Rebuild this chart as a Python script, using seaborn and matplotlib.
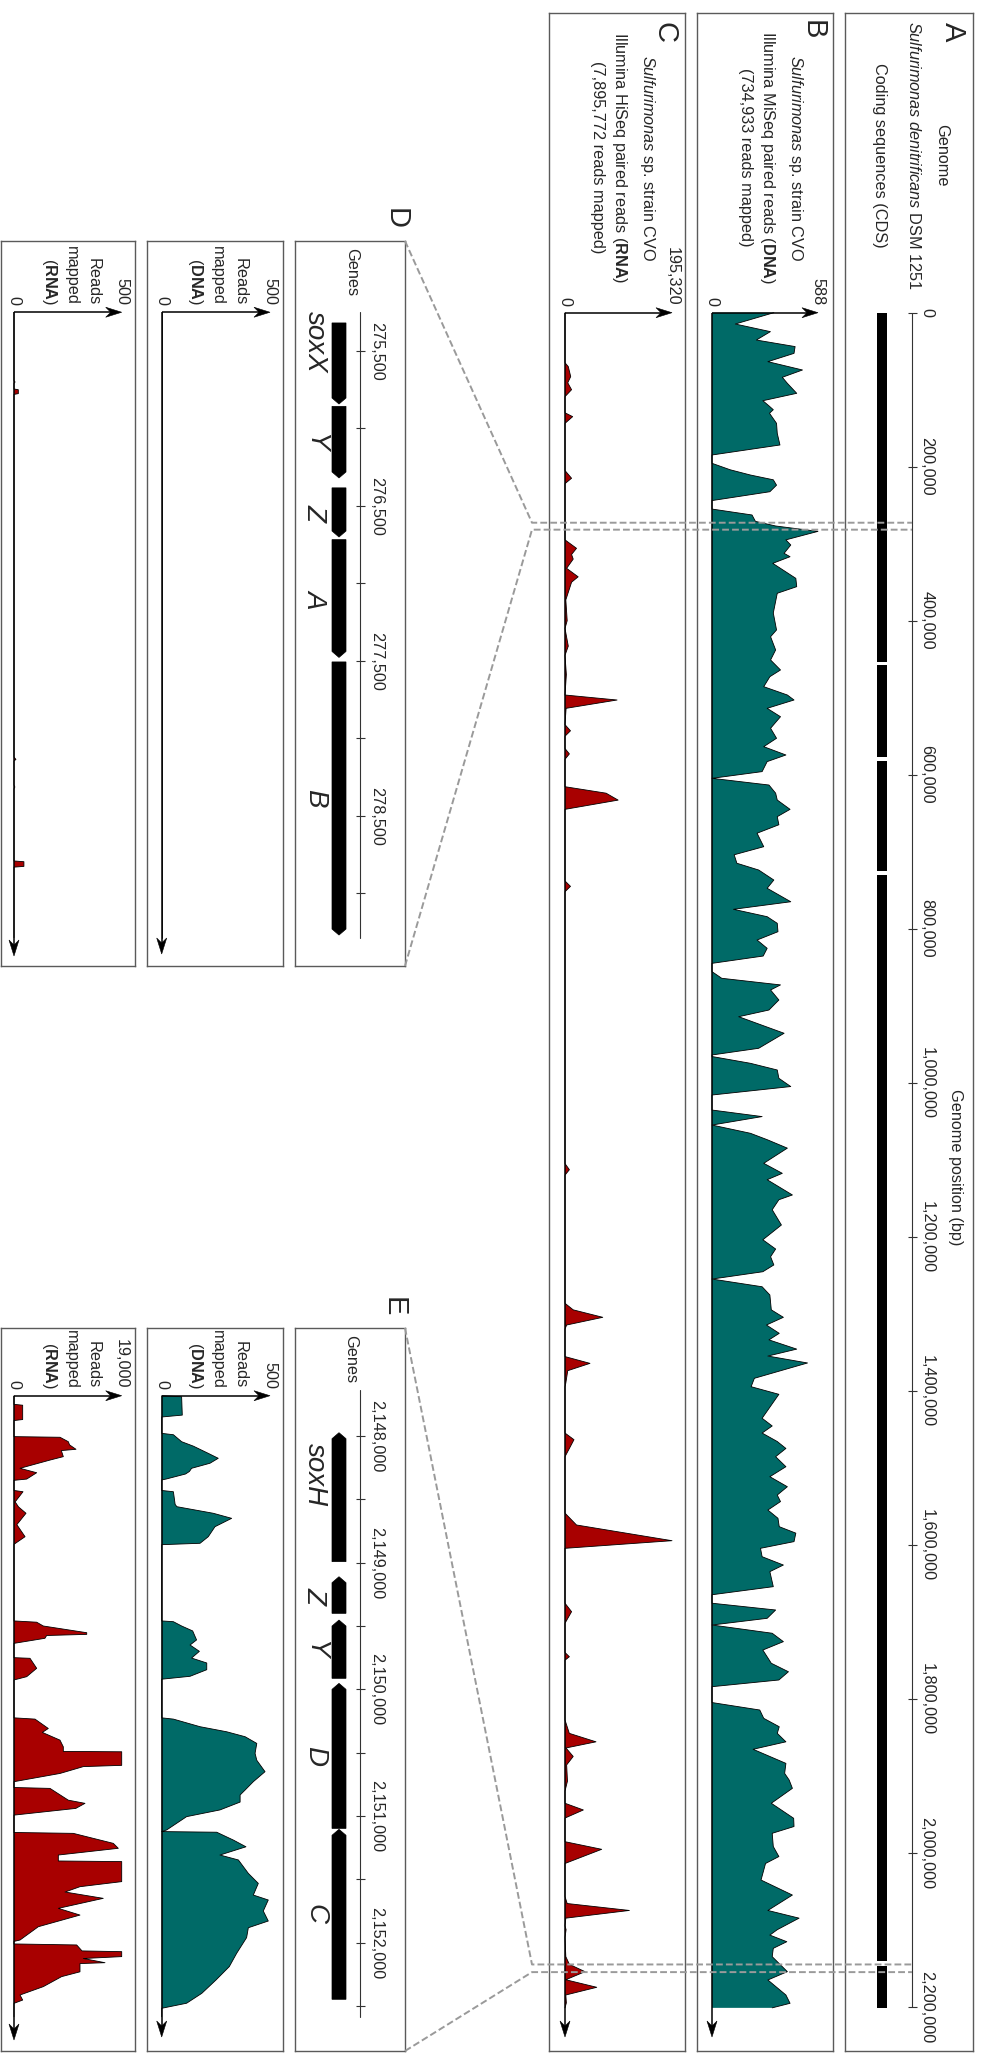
import numpy as np
import matplotlib
matplotlib.use("Agg")
import matplotlib.pyplot as plt
from matplotlib.patches import Polygon
import seaborn as sns

# ------------------------------------------------------------------
# Data
# ------------------------------------------------------------------
GENOME_TICKS = list(range(0, 2_200_001, 200_000))
# contiguous coding regions of the reference genome (kb gaps between them)
CDS_BLOCKS = [(0, 453_000), (457_000, 576_600), (582_000, 724_600),
              (730_000, 2_140_600), (2_146_800, 2_201_500)]

DNA_READS_MAPPED = 734_933
RNA_READS_MAPPED = 7_895_772

# genome-wide DNA coverage (MiSeq), position in kb
DNA_POS_KB = [0, 14.7, 24.6, 35.5, 44, 52.8, 63.6, 74.4, 83.9, 91.7,
              104.7, 114.3, 121, 126, 130.6, 143.7, 156.7, 171.8, 184.8, 195.6,
              204, 210.8, 217, 224, 232.5, 244, 255, 262.7, 271, 277,
              284, 295, 301.7, 312.5, 316.9, 325.5, 345, 355.8, 364.4, 390,
              412, 420.8, 438, 451, 464, 472.7, 485.7, 496.5, 503, 513.8,
              524.7, 539.7, 552.7, 563.6, 574.4, 583, 596, 604.7, 613.4, 624,
              632.9, 645, 654.5, 665, 676, 693.5, 704, 715, 723.8, 736.8,
              747.5, 765, 774.8, 784.4, 793, 803.9, 814.7, 825.5, 835.5, 845,
              855.8, 864.4, 873, 879.6, 892.6, 905.6, 914.3, 935.8, 955.3, 964,
              966, 974.8, 983.5, 994.3, 1005, 1016, 1035.5, 1044, 1055, 1065.7,
              1074, 1085, 1104.7, 1117.7, 1126, 1145.8, 1152, 1165, 1184.8, 1204,
              1216, 1226, 1236.7, 1245.5, 1255, 1265, 1275.7, 1295, 1304.7, 1314.7,
              1325.5, 1334, 1346, 1355, 1364, 1383.9, 1394.8, 1404.7, 1435.8, 1445.8,
              1455, 1466, 1475, 1485.7, 1498.7, 1511.7, 1524.7, 1535.5, 1544, 1555,
              1565.7, 1576.6, 1585, 1596, 1604.7, 1615.6, 1626.4, 1635, 1654.5, 1665,
              1676, 1684.8, 1695.6, 1704.3, 1715, 1725.9, 1736.8, 1754, 1765, 1775.7,
              1784.4, 1805, 1814.7, 1825.5, 1836.4, 1845, 1856, 1865.7, 1884, 1897,
              1905.6, 1916.4, 1935.8, 1955.3, 1966, 1974.8, 1992, 2005, 2014, 2035.5,
              2055, 2075, 2085, 2100, 2107, 2115.6, 2124.2, 2135, 2154.5, 2165.3,
              2184.8, 2195.6, 2201.5]
DNA_COV = [343, 129, 324, 246, 461, 455, 310, 502, 390, 418,
           470, 282, 316, 340, 319, 358, 362, 377, 0, 0,
           101, 213, 340, 358, 321, 0, 0, 222, 241, 353,
           588, 410, 437, 400, 433, 337, 465, 470, 362, 340,
           358, 325, 353, 325, 380, 321, 287, 418, 455, 306,
           380, 325, 358, 287, 410, 306, 278, 0, 316, 353,
           362, 433, 362, 371, 250, 287, 123, 138, 259, 343,
           306, 437, 119, 306, 362, 366, 250, 306, 284, 0,
           0, 54, 380, 325, 371, 316, 148, 400, 259, 0,
           0, 213, 362, 371, 437, 0, 0, 278, 0, 213,
           306, 418, 287, 390, 306, 446, 371, 334, 385, 282,
           353, 325, 343, 282, 0, 278, 321, 329, 396, 302,
           373, 316, 470, 310, 530, 235, 217, 371, 278, 334,
           278, 362, 410, 353, 410, 321, 418, 362, 380, 310,
           366, 373, 465, 455, 269, 278, 396, 321, 340, 0,
           0, 353, 306, 0, 334, 396, 282, 329, 424, 371,
           0, 0, 265, 287, 373, 362, 410, 228, 410, 403,
           428, 446, 329, 453, 455, 334, 340, 371, 297, 272,
           446, 310, 483, 362, 321, 415, 340, 334, 418, 310,
           410, 433, 334]

# genome-wide RNA coverage (HiSeq), position in kb
RNA_POS_KB = [0, 65, 70, 83, 91, 100, 109, 130, 135, 143.7,
              205, 215, 222, 295, 306, 314, 320, 332, 343, 350,
              373, 400, 410, 433, 445, 470, 496.5, 503, 513.8, 535,
              543, 550, 566, 573, 580, 615.6, 624, 633, 645, 738,
              745, 752, 1105, 1113, 1120, 1286.5, 1295, 1304.7, 1314.7, 1320,
              1355.7, 1364.5, 1374, 1390, 1395, 1455, 1463.6, 1475, 1485.7, 1559,
              1574.4, 1594.8, 1604.7, 1676, 1687, 1702, 1740, 1745.5, 1750, 1827.7,
              1845, 1856, 1864, 1875, 1886, 1907, 1920, 1935.8, 1944.5, 1955,
              1985.7, 1995.6, 2014, 2057, 2066, 2075, 2085, 2095, 2100, 2110,
              2135, 2145, 2154.5, 2165, 2174.8, 2184.8, 2195, 2201.5]
RNA_COV = [0, 0, 6000, 10400, 5000, 12000, 0, 0, 14000, 0,
           0, 12000, 0, 0, 21000, 12000, 15000, 3000, 24000, 12000,
           1500, 4000, 0, 6000, 0, 2500, 0, 95000, 2000, 0,
           10000, 0, 0, 8000, 0, 0, 75000, 97000, 0, 0,
           10000, 0, 0, 8000, 0, 0, 15000, 69000, 3000, 0,
           0, 45600, 5000, 1500, 0, 0, 16400, 8000, 0, 0,
           21000, 195320, 0, 0, 12000, 0, 0, 8000, 0, 0,
           7900, 56600, 1800, 15000, 3000, 4500, 0, 0, 33500, 0,
           0, 67000, 0, 0, 4000, 117500, 1500, 0, 2000, 0,
           1500, 8000, 36500, 1500, 58000, 1500, 2500, 0]

# soxXYZAB locus
D_AXIS = (275_250, 279_285)
D_TICKS = list(range(275_500, 279_001, 500))
D_GENE_NAMES = ["soxX", "Y", "Z", "A", "B"]
D_GENE_START = [275_319, 275_857, 276_383, 276_717, 277_506]
D_GENE_END = [275_842, 276_319, 276_700, 277_477, 279_268]
D_GENE_STRAND = [1, 1, 1, 1, 1]
D_DNA_POS = [275_250, 279_285]
D_DNA_COV = [0, 0]
D_RNA_POS = [275_250, 275_690, 275_700, 275_710, 275_745, 275_750, 275_775, 275_780,
             278_120, 278_135, 278_145, 278_300, 278_313, 278_325,
             278_790, 278_795, 278_825, 278_830, 279_285]
D_RNA_COV = [0, 0, 5, 0, 0, 20, 20, 0, 0, 9, 0, 0, 4, 0, 0, 46, 46, 0, 0]

# soxHZYDC locus
E_AXIS = (2_147_640, 2_152_585)
E_TICKS = list(range(2_148_000, 2_152_501, 500))
E_GENE_NAMES = ["soxH", "Z", "Y", "D", "C"]
E_GENE_START = [2_147_974, 2_149_111, 2_149_453, 2_149_953, 2_151_105]
E_GENE_END = [2_148_992, 2_149_400, 2_149_913, 2_151_098, 2_152_447]
E_GENE_STRAND = [-1, -1, -1, -1, -1]
E_DNA_POS = [2147682, 2147690, 2147835, 2147850, 2147979, 2147990, 2148045, 2148080, 2148137, 2148176,
             2148215, 2148255, 2148280, 2148300, 2148340, 2148347, 2148430, 2148440, 2148540, 2148558,
             2148610, 2148650, 2148716, 2148795, 2148847, 2148858, 2149460, 2149466, 2149500, 2149539,
             2149610, 2149650, 2149700, 2149753, 2149792, 2149845, 2149897, 2149920, 2150225, 2150235,
             2150295, 2150335, 2150374, 2150427, 2150505, 2150560, 2150650, 2150729, 2150795, 2150834,
             2150890, 2150952, 2151005, 2151110, 2151123, 2151128, 2151190, 2151243, 2151308, 2151347,
             2151453, 2151532, 2151624, 2151663, 2151750, 2151829, 2151882, 2151960, 2152084, 2152189,
             2152294, 2152400, 2152478, 2152518, 2152585]
E_DNA_COV = [0, 92, 95, 0, 0, 54, 92, 146, 215, 261,
             223, 138, 128, 110, 20, 0, 0, 54, 62, 70,
             238, 323, 246, 215, 177, 0, 0, 54, 92, 143,
             161, 131, 174, 138, 208, 208, 131, 0, 0, 54,
             177, 300, 385, 439, 431, 439, 477, 423, 385, 362,
             362, 269, 115, 23, 0, 254, 331, 389, 269, 354,
             400, 446, 423, 492, 469, 492, 400, 392, 346, 312,
             251, 185, 115, 0, 0]
E_RNA_POS = [2147682, 2147750, 2147757, 2147870, 2147878, 2148005, 2148010, 2148045, 2148070, 2148105,
             2148115, 2148163, 2148190, 2148255, 2148290, 2148340, 2148350, 2148430, 2148440, 2148520,
             2148560, 2148610, 2148700, 2148795, 2148855, 2149460, 2149470, 2149500, 2149553, 2149566,
             2149575, 2149597, 2149637, 2149750, 2149755, 2149834, 2149900, 2149926, 2150225, 2150235,
             2150309, 2150340, 2150401, 2150454, 2150490, 2150493, 2150600, 2150610, 2150664, 2150729,
             2150775, 2150782, 2150875, 2150900, 2150940, 2150993, 2151130, 2151137, 2151216, 2151255,
             2151308, 2151355, 2151360, 2151518, 2151558, 2151600, 2151650, 2151729, 2151782, 2151874,
             2151979, 2151990, 2152010, 2152018, 2152065, 2152071, 2152110, 2152125, 2152158, 2152165,
             2152230, 2152268, 2152347, 2152413, 2152453, 2152479, 2152585]
E_RNA_COV = [0, 0, 1530, 1530, 0, 0, 8115, 9580, 9800, 10937,
             8350, 8700, 6350, 1060, 4000, 2240, 0, 0, 1590, 200,
             800, 2117, 500, 1950, 0, 0, 4000, 5170, 12830, 12830,
             5760, 5460, 0, 0, 2823, 4000, 2240, 0, 0, 3705,
             6050, 5000, 8115, 8700, 8700, 19000, 19000, 12230, 8115, 0,
             0, 6350, 9580, 12525, 10900, 0, 0, 10465, 17520, 18400,
             7820, 7820, 19000, 19000, 11640, 9000, 15750, 7820, 11640, 4290,
             1060, 0, 0, 11060, 12000, 19000, 19000, 12230, 16050, 11640,
             11640, 8400, 5170, 1060, 1530, 0, 0]
LOCUS_DNA_MAX = 500
D_RNA_MAX = 500
E_RNA_MAX = 19_000

# ------------------------------------------------------------------
# Style
# ------------------------------------------------------------------
sns.set_theme(style="white")
plt.rcParams["font.family"] = ["Liberation Sans", "DejaVu Sans"]
plt.rcParams["mathtext.fontset"] = "custom"
plt.rcParams["mathtext.rm"] = "Liberation Sans"
plt.rcParams["mathtext.it"] = "Liberation Sans:italic"
plt.rcParams["mathtext.bf"] = "Liberation Sans:bold"

FS = 11.7
LETTER_FS = 21
GENE_FS = 20
TEAL = "#006a67"
RED = "#a80000"
BOX_EDGE = "#5a5a5a"
DASH_GREY = "#9a9a9a"
AXIS_LW = 1.1

W, H = 989, 2053
fig = plt.figure(figsize=(W / 100, H / 100), dpi=100)
fig.patch.set_facecolor("white")

# full-figure overlay in pixel units (top-left origin) for connectors & arrowheads
ov = fig.add_axes([0, 0, 1, 1])
ov.set_xlim(0, W)
ov.set_ylim(H, 0)
ov.axis("off")
ov.patch.set_alpha(0)
ov.set_zorder(10)


def box_axes(box):
    x0, y0, x1, y1 = box
    ax = fig.add_axes([x0 / W, 1 - y1 / H, (x1 - x0) / W, (y1 - y0) / H])
    return ax


def finish_box(ax):
    ax.set_xticks([])
    ax.set_yticks([])
    ax.set_xlabel("")
    ax.set_ylabel("")
    for sp in ax.spines.values():
        sp.set_visible(True)
        sp.set_edgecolor(BOX_EDGE)
        sp.set_linewidth(1.0)


def set_scale(ax, box, x_zero, x_full, v_full, y_ref, pos_ref, ppb):
    """Map value 0 -> x_zero px, v_full -> x_full px; genome pos_ref -> y_ref px."""
    x0, y0, x1, y1 = box
    k = v_full / (x_full - x_zero)
    ax.set_xlim((x0 - x_zero) * k, (x1 - x_zero) * k)
    ax.set_ylim(pos_ref + (y1 - y_ref) / ppb, pos_ref + (y0 - y_ref) / ppb)


def to_px(ax, x, y):
    dx, dy = ax.transData.transform((x, y))
    return dx, H - dy


def px_to_pos(y_px, y_ref, pos_ref, ppb):
    return pos_ref + (y_px - y_ref) / ppb


def label(x, y, s, size=FS, **kw):
    kw.setdefault("ha", "center")
    kw.setdefault("va", "center")
    fig.text(x / W, 1 - y / H, s, rotation=270, fontsize=size, **kw)


def arrowhead(xt, yt, direction):
    L, hw, notch = 16, 5, 11
    if direction == "down":
        pts = [(xt, yt), (xt - hw, yt - L), (xt, yt - notch), (xt + hw, yt - L)]
    else:
        pts = [(xt, yt), (xt - L, yt - hw), (xt - notch, yt), (xt - L, yt + hw)]
    ov.add_patch(Polygon(pts, closed=True, facecolor="black", edgecolor="black", lw=0.4))


def coverage_panel(box, x_zero, x_full, v_full, y_ref, pos_ref, ppb,
                   pos, cov, color, tip_y, top_text, side_lines):
    ax = box_axes(box)
    pos = np.asarray(pos, dtype=float)
    cov = np.minimum(np.asarray(cov, dtype=float), v_full)
    ax.fill_betweenx(pos, 0, cov, facecolor=color, edgecolor="none", zorder=2)
    sns.lineplot(x=cov, y=pos, sort=False, estimator=None, color="black",
                 linewidth=0.6, ax=ax, zorder=3)
    set_scale(ax, box, x_zero, x_full, v_full, y_ref, pos_ref, ppb)
    finish_box(ax)

    start = pos[0]
    tip_pos = px_to_pos(tip_y, y_ref, pos_ref, ppb)
    ax.plot([0, 0], [start, tip_pos - 8 / ppb], color="black", lw=AXIS_LW,
            solid_capstyle="butt", zorder=4)
    ax.plot([0, v_full - (k_px := 8) * v_full / (x_full - x_zero)], [start, start],
            color="black", lw=AXIS_LW, solid_capstyle="butt", zorder=4)
    xs, ys = to_px(ax, 0, start)
    xt, _ = to_px(ax, v_full, start)
    arrowhead(xs, tip_y, "down")
    arrowhead(xt, ys, "right")

    label(xs, ys - 7, "0", va="bottom")
    label(xt, ys - 7, top_text, va="bottom")
    for text, xp in side_lines:
        label(xp, ys - 7, text, va="bottom")
    return ax


# ------------------------------------------------------------------
# Panel A: genome axis and coding sequences
# ------------------------------------------------------------------
G_Y0 = 312.7
G_PPB = (2006.7 - 312.7) / 2_200_000
BOX_A = (845, 13, 973, 2051)
axA = box_axes(BOX_A)
cds_start = [s for s, e in CDS_BLOCKS]
cds_len = [e - s for s, e in CDS_BLOCKS]
axA.bar(x=[882] * len(CDS_BLOCKS), height=cds_len, bottom=cds_start, width=10,
        color="black", linewidth=0)
axA.plot([912, 912], [GENOME_TICKS[0], GENOME_TICKS[-1]], color="#333333", lw=0.8)
axA.hlines(GENOME_TICKS, 907.5, 916.5, color="#333333", lw=0.8)
for t in GENOME_TICKS:
    axA.text(927, t, f"{t:,}", rotation=270, ha="center", va="center", fontsize=FS)
set_scale(axA, BOX_A, 0, 1, 1, G_Y0, 0, G_PPB)
finish_box(axA)

label(953, 32, "A", size=LETTER_FS)
label(942, 155, "Genome")
label(914, 155, r"$\mathit{Sulfurimonas\ denitrificans}$ DSM 1251")
label(880, 155, "Coding sequences (CDS)")
label(955, 1167, "Genome position (bp)")

# ------------------------------------------------------------------
# Panels B and C: genome-wide coverage
# ------------------------------------------------------------------
dna_max = max(DNA_COV)
rna_max = max(RNA_COV)
coverage_panel((697, 13, 833, 2051), 712, 818, dna_max, G_Y0, 0, G_PPB,
               np.array(DNA_POS_KB) * 1000, DNA_COV, TEAL, 2037, f"{dna_max:,}", [])
coverage_panel((549, 13, 685, 2051), 565, 672, rna_max, G_Y0, 0, G_PPB,
               np.array(RNA_POS_KB) * 1000, RNA_COV, RED, 2037, f"{rna_max:,}", [])

label(813, 30, "B", size=LETTER_FS)
label(795, 158, r"$\mathit{Sulfurimonas}$ sp. strain CVO")
label(767, 158, r"Illumina MiSeq paired reads ($\mathbf{DNA}$)")
label(745, 157, f"({DNA_READS_MAPPED:,} reads mapped)")

label(664, 32, "C", size=LETTER_FS)
label(648, 158, r"$\mathit{Sulfurimonas}$ sp. strain CVO")
label(619, 158, r"Illumina HiSeq paired reads ($\mathbf{RNA}$)")
label(597, 157, f"({RNA_READS_MAPPED:,} reads mapped)")


# ------------------------------------------------------------------
# Panels D and E: locus views
# ------------------------------------------------------------------
def gene_panel(box, y_ref, pos_ref, ppb, axis_rng, ticks, names, starts, ends, strands):
    ax = box_axes(box)
    tip = 6 / ppb
    xa, xb = 332, 346
    xm = (xa + xb) / 2
    for name, s, e, st in zip(names, starts, ends, strands):
        if st > 0:
            pts = [(xa, s), (xb, s), (xb, e - tip), (xm, e), (xa, e - tip)]
        else:
            pts = [(xm, s), (xb, s + tip), (xb, e), (xa, e), (xa, s + tip)]
        ax.add_patch(Polygon(pts, closed=True, facecolor="black", edgecolor="black", lw=0.5))
    mids = [(s + e) / 2 for s, e in zip(starts, ends)]
    # first label carries the "sox" prefix and ends just past the gene midpoint
    ax.annotate(names[0], xy=(315, mids[0]), xytext=(0, -6.5), textcoords="offset points",
                rotation=270, ha="center", va="bottom", fontsize=GENE_FS, style="italic")
    for name, m in zip(names[1:], mids[1:]):
        ax.text(315, m, name, rotation=270, ha="center", va="center",
                fontsize=GENE_FS, style="italic")
    ax.plot([360, 360], list(axis_rng), color="#333333", lw=0.8)
    ax.hlines(ticks, 356, 365, color="#333333", lw=0.8)
    for t in ticks:
        if t % 1000 == (ticks[0] % 1000):
            ax.text(377, t, f"{t:,}", rotation=270, ha="center", va="center", fontsize=FS)
    set_scale(ax, box, 0, 1, 1, y_ref, pos_ref, ppb)
    finish_box(ax)
    return ax


D_Y_REF, D_POS_REF, D_PPB = 351, 275_500, 0.155
E_Y_REF, E_POS_REF, E_PPB = 1436, 2_148_000, 126.67 / 1000

axD = gene_panel((295, 241, 405, 966), D_Y_REF, D_POS_REF, D_PPB, D_AXIS, D_TICKS,
                 D_GENE_NAMES, D_GENE_START, D_GENE_END, D_GENE_STRAND)
axE = gene_panel((295, 1328, 405, 2051), E_Y_REF, E_POS_REF, E_PPB, E_AXIS, E_TICKS,
                 E_GENE_NAMES, E_GENE_START, E_GENE_END, E_GENE_STRAND)

DNA_SIDE = [("Reads", 240), ("mapped", 217), (r"($\mathbf{DNA}$)", 196)]
RNA_SIDE = [("Reads", 93), ("mapped", 71), (r"($\mathbf{RNA}$)", 49.5)]

coverage_panel((147, 241, 283, 966), 161.7, 270, LOCUS_DNA_MAX, D_Y_REF, D_POS_REF, D_PPB,
               D_DNA_POS, D_DNA_COV, TEAL, 954, f"{LOCUS_DNA_MAX:,}", DNA_SIDE)
coverage_panel((1, 241, 135, 966), 14, 121.7, D_RNA_MAX, D_Y_REF, D_POS_REF, D_PPB,
               D_RNA_POS, D_RNA_COV, RED, 956, f"{D_RNA_MAX:,}", RNA_SIDE)
coverage_panel((147, 1328, 283, 2051), 161.7, 270, LOCUS_DNA_MAX, E_Y_REF, E_POS_REF, E_PPB,
               E_DNA_POS, E_DNA_COV, TEAL, 2037, f"{LOCUS_DNA_MAX:,}", DNA_SIDE)
coverage_panel((1, 1328, 135, 2051), 14, 121.7, E_RNA_MAX, E_Y_REF, E_POS_REF, E_PPB,
               E_RNA_POS, E_RNA_COV, RED, 2040, f"{E_RNA_MAX:,}", RNA_SIDE)

label(396, 219, "D", size=LETTER_FS)
label(352, 272, "Genes")
label(394, 1307, "E", size=LETTER_FS)
label(351, 1359, "Genes")

# ------------------------------------------------------------------
# Zoom connectors from the genome axis to the locus panels
# ------------------------------------------------------------------
PAD = 2_500
for rng, (top_y, bot_y) in [(D_AXIS, (241, 966)), (E_AXIS, (1328, 2051))]:
    _, y_a = to_px(axA, 912, rng[0] - PAD)
    _, y_b = to_px(axA, 912, rng[1] + PAD)
    for y_line, y_corner in [(y_a, top_y), (y_b, bot_y)]:
        ov.plot([405, 532, 912], [y_corner, y_line, y_line], color=DASH_GREY,
                lw=1.4, linestyle=(0, (3.5, 1.6)), solid_joinstyle="miter")

fig.savefig("out.png", dpi=100, facecolor="white")
